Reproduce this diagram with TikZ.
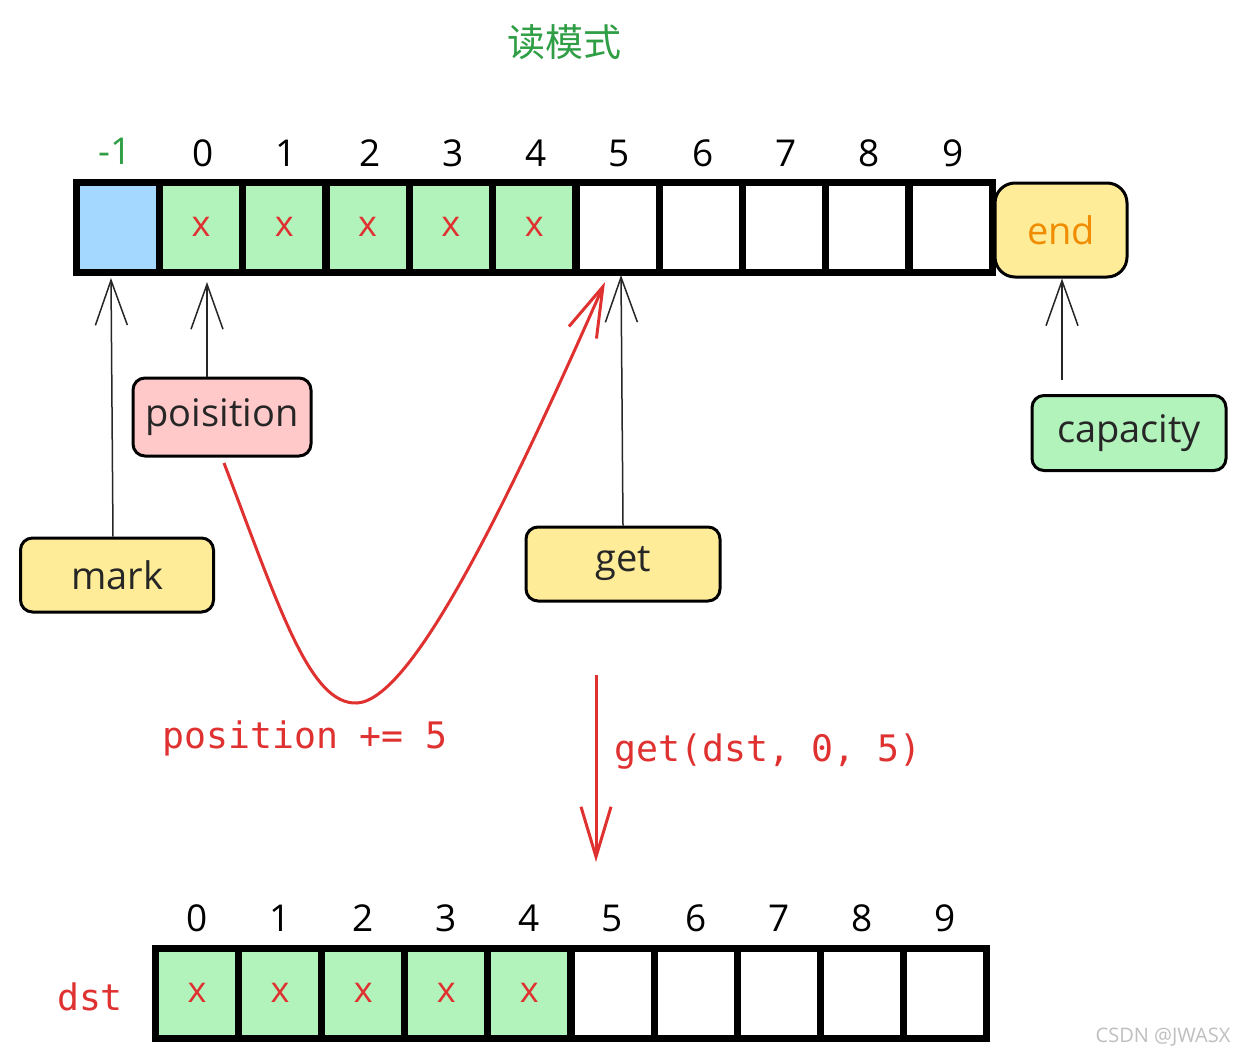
\documentclass[tikz,border=0pt]{standalone}
\usepackage{fontspec}
\setmainfont{Open Sans}
\newfontfamily\monofont{DejaVu Sans Mono}
\newfontfamily\cjkfont{Noto Sans CJK SC}
\usetikzlibrary{arrows.meta}
\definecolor{cgreen}{HTML}{B2F2BB}
\definecolor{cblue}{HTML}{A5D8FF}
\definecolor{cyellow}{HTML}{FFEC99}
\definecolor{cpink}{HTML}{FFC9C9}
\definecolor{cred}{HTML}{E03131}
\definecolor{dgreen}{HTML}{2F9E44}
\definecolor{corange}{HTML}{F08C00}
\tikzset{
  cell/.style={draw=black, line width=7pt, minimum width=83pt, minimum height=90pt, inner sep=0pt, text=cred, font=\fontsize{36}{38}\selectfont},
  idx/.style={font=\fontsize{37}{40}\selectfont, inner sep=0pt},
  tag/.style={draw=black, line width=3pt, rounded corners=12pt, inner sep=0pt, font=\fontsize{38}{42}\selectfont, text=black!85},
  ptr/.style={line width=1.5pt, black!85, -{Straight Barb[length=45pt,width=32pt,line width=1.5pt]}},
  redptr/.style={line width=3pt, cred, -{Straight Barb[length=50pt,width=30pt,line width=3pt]}},
  redlabel/.style={font=\monofont\fontsize{36.5}{40}\selectfont, text=cred, inner sep=0pt}
}
\begin{document}
\begin{tikzpicture}[x=1pt,y=-1pt]
\useasboundingbox (0,0) rectangle (1246,1057);
\fill[white] (0,0) rectangle (1246,1057);
% title
\node[font=\cjkfont\fontsize{38}{40}\selectfont, text=dgreen] (title) at (564,42) {读模式};
% top row
\node[cell, fill=cblue] (tm) at (117.5,227) {};
\node[idx, text=dgreen] (lm) at (115,151) {-1};
\foreach \i in {0,...,9} {
  \pgfmathsetmacro{\xx}{201+83.3*\i}
  \ifnum\i<5
    \node[cell, fill=cgreen] (t\i) at (\xx,227) {x};
  \else
    \node[cell, fill=white] (t\i) at (\xx,227) {};
  \fi
  \node[idx] (l\i) at (\xx+2,153) {\i};
}
% end box
\node[tag, fill=cyellow, rounded corners=20pt, minimum width=132pt, minimum height=94pt, text=corange] (end) at (1061,230) {end};
% tags
\node[tag, fill=cpink, minimum width=178pt, minimum height=78pt] (pos) at (222,417) {poisition};
\node[tag, fill=cyellow, minimum width=193pt, minimum height=74pt] (mark) at (117,575) {mark};
\node[tag, fill=cyellow, minimum width=194pt, minimum height=74pt] (get) at (623,564) {get};
\node[tag, fill=cgreen, minimum width=194pt, minimum height=75pt] (cap) at (1129,433) {capacity};
% pointer arrows
\draw[ptr] (mark.north -| 113,0) -- (111,278);
\draw[ptr] (pos.north -| 207,0) -- (207,282);
\draw[ptr] (get.north) -- (621,275);
\draw[ptr] (1062,380) -- (end.south -| 1062,0);
% red curve
\coordinate (cs) at (224,463);
\coordinate (ce) at (605,282);
\draw[redptr] (cs) .. controls (280,610) and (310,705) .. (357,703)
  .. controls (410,700) and (500,520) .. (ce);
\node[redlabel, anchor=west] (plabel) at (162,738) {position += 5};
% get arrow
\coordinate (gs) at (596,675);
\coordinate (ge) at (596,862);
\draw[redptr] (gs) -- (ge);
\node[redlabel, anchor=west] (glabel) at (614,752) {get(dst, 0, 5)};
% bottom row
\node[redlabel] (dst) at (90,997) {dst};
\foreach \i in {0,...,9} {
  \pgfmathsetmacro{\xx}{197+83.1*\i}
  \ifnum\i<5
    \node[cell, fill=cgreen] (d\i) at (\xx,993) {x};
  \else
    \node[cell, fill=white] (d\i) at (\xx,993) {};
  \fi
  \node[idx] (k\i) at (\xx,918) {\i};
}
% watermark
\node[font=\fontsize{20}{22}\selectfont, text=black!25] (wm) at (1163,1037) {CSDN @JWASX};
\end{tikzpicture}
\end{document}
